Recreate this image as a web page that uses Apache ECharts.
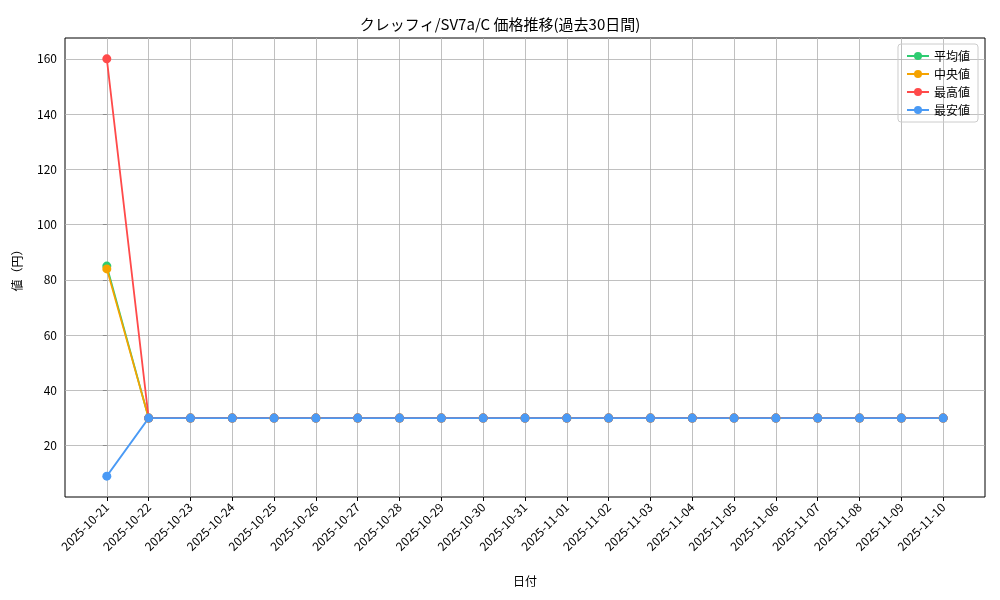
<!DOCTYPE html>
<html><head><meta charset="utf-8">
<script src="https://cdn.jsdelivr.net/npm/echarts@6/dist/echarts.min.js"></script>
<style>html,body{margin:0;padding:0;background:#fff}#c{width:1000px;height:600px}</style>
</head><body><div id="c"></div>
<script>
const dates = ["2025-10-21","2025-10-22","2025-10-23","2025-10-24","2025-10-25","2025-10-26","2025-10-27","2025-10-28","2025-10-29","2025-10-30","2025-10-31","2025-11-01","2025-11-02","2025-11-03","2025-11-04","2025-11-05","2025-11-06","2025-11-07","2025-11-08","2025-11-09","2025-11-10"];
const avgVals = [85,30,30,30,30,30,30,30,30,30,30,30,30,30,30,30,30,30,30,30,30];
const medVals = [84,30,30,30,30,30,30,30,30,30,30,30,30,30,30,30,30,30,30,30,30];
const maxVals = [160,30,30,30,30,30,30,30,30,30,30,30,30,30,30,30,30,30,30,30,30];
const minVals = [9,30,30,30,30,30,30,30,30,30,30,30,30,30,30,30,30,30,30,30,30];
const yTicks = [20,40,60,80,100,120,140,160];
const xTicks = dates.map((d,i)=>i);
const F = '"Noto Sans CJK JP", sans-serif';
const chart = echarts.init(document.getElementById('c'));
function mk(name, vals, color){
  return {name, type:'line', data: vals.map((v,i)=>[i,v]), symbol:'circle', symbolSize:9,
    itemStyle:{color}, lineStyle:{color, width:1.8}, z:3};
}
chart.setOption({
  animation:false,
  textStyle:{fontFamily:F},
  title:{text:'クレッフィ/SV7a/C 価格推移(過去30日間)', left:'center', top:12,
    textStyle:{fontFamily:F, fontSize:15, fontWeight:'normal', color:'#000'}},
  grid:{left:65, right:15, top:38, bottom:103, show:true, borderColor:'#000', borderWidth:1},
  legend:{orient:'vertical', right:22, top:44, borderColor:'#ccc', borderWidth:1, borderRadius:3,
    padding:[6,8], itemGap:6, itemWidth:22, itemHeight:10,
    textStyle:{fontFamily:F, fontSize:12, color:'#000'},
    data:['平均値','中央値','最高値','最安値']},
  xAxis:{type:'value', min:-1, max:21, interval:1,
    name:'日付', nameLocation:'middle', nameGap:78, nameTextStyle:{fontFamily:F, fontSize:12, color:'#000'},
    axisLine:{show:false},
    axisTick:{show:true, length:4, lineStyle:{color:'#000'}, customValues:xTicks},
    axisLabel:{rotate:45, fontSize:12, color:'#000', fontFamily:F, customValues:xTicks,
      formatter:v=> (v>=0 && v<dates.length && Number.isInteger(v)) ? dates[v] : ''},
    splitLine:{show:true, lineStyle:{color:'#b0b0b0', width:0.8}}},
  yAxis:{type:'value', min:1.45, max:167.55,
    name:'値（円）', nameLocation:'middle', nameGap:42, nameRotate:90,
    nameTextStyle:{fontFamily:F, fontSize:12, color:'#000'},
    axisLine:{show:false},
    axisTick:{show:true, length:4, lineStyle:{color:'#000'}, customValues:yTicks},
    axisLabel:{color:'#000', fontSize:12, fontFamily:F, customValues:yTicks},
    splitLine:{show:false}},
  series:[
    mk('平均値', avgVals, '#2ecc71'),
    mk('中央値', medVals, '#f5a300'),
    mk('最高値', maxVals, '#ff4a4a'),
    Object.assign(mk('最安値', minVals, '#4a9af5'), {
      markLine:{silent:true, symbol:'none', label:{show:false}, z:1,
        lineStyle:{color:'#b0b0b0', width:0.8, type:'solid'},
        data: yTicks.map(v=>({yAxis:v}))}
    })
  ]
});
</script></body></html>
